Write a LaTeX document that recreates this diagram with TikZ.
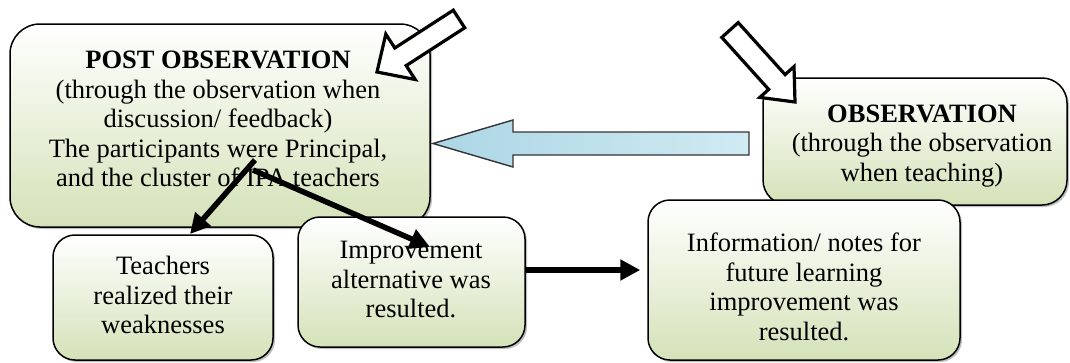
\documentclass[tikz,border=0pt]{standalone}
\usepackage{fontspec}
\setmainfont{Liberation Serif}
\usetikzlibrary{arrows.meta,shadows,calc}
\definecolor{gbot}{RGB}{212,226,184}
\definecolor{bluel}{RGB}{172,214,229}
\definecolor{bluer}{RGB}{208,234,242}
\tikzset{
  box/.style={draw=black, line width=1.5pt, inner sep=0pt, top color=white, bottom color=gbot,
    drop shadow={shadow xshift=2pt, shadow yshift=-2pt, opacity=0.5}},
  txt/.style={align=center, inner sep=0pt, font=\fontsize{26.5}{29.5}\selectfont},
  hollow/.style={draw=black, line width=3.2pt, fill=white, line join=miter},
  blockblue/.style={draw=black!80, line width=1.4pt, left color=bluel, right color=bluer},
  conn/.style={line width=5.5pt, -{Triangle[length=20pt,width=20pt]}}
}
\begin{document}
\begin{tikzpicture}[x=1pt,y=-1pt]
\useasboundingbox (0,0) rectangle (1070,362);
% boxes
\node[box, minimum width=304pt, minimum height=127pt, rounded corners=25pt] (obs) at (915,141.5) {};
\node[txt] (obstxt) at (922,146) {\textbf{OBSERVATION}\\(through the observation\\when teaching)};
\node[box, minimum width=420pt, minimum height=203pt, rounded corners=30pt] (post) at (220,125.5) {};
\node[txt] (posttxt) at (218,119) {\textbf{POST OBSERVATION}\\(through the observation when\\discussion/ feedback)\\The participants were Principal,\\and the cluster of IPA teachers};
% blue block arrow
\path[blockblue] (749,132) -- (513,132) -- (513,120) -- (433,143.5) -- (513,167) -- (513,155) -- (749,155) -- cycle;
% hollow arrows
\path[hollow] (464.7,27.8) -- (406.2,65.6) -- (415.2,79.5) -- (377,72) -- (385.8,34.1) -- (394.8,48.0) -- (453.3,10.2) -- cycle;
\path[hollow] (721.8,37.4) -- (768.7,89.4) -- (759.8,97.4) -- (795,102) -- (794.0,66.6) -- (785.1,74.6) -- (738.2,22.6) -- cycle;
% lower boxes
\node[box, minimum width=220pt, minimum height=125pt, rounded corners=22pt] (teach) at (163,297.5) {};
\node[txt] (teachtxt) at (163,295) {Teachers\\realized their\\weaknesses};
\node[box, minimum width=227pt, minimum height=130pt, rounded corners=22pt] (impr) at (411.5,282) {};
\node[txt] (imprtxt) at (411,280) {Improvement\\alternative was\\resulted.};
\node[box, minimum width=312pt, minimum height=160pt, rounded corners=22pt] (info) at (804,280) {};
\node[txt] (infotxt) at (804,287) {Information/ notes for\\future learning\\improvement was\\resulted.};
% connectors
\coordinate (s1) at (255,160);
\coordinate (s2) at (253,170);
\coordinate (e1) at (190,234);
\coordinate (e2) at (430,247);
\draw[conn] (s1) -- (e1);
\draw[conn] (s2) -- (e2);
\draw[conn] ([yshift=12pt]impr.east) -- ([xshift=-7pt,yshift=10pt]info.west);
\end{tikzpicture}
\end{document}
